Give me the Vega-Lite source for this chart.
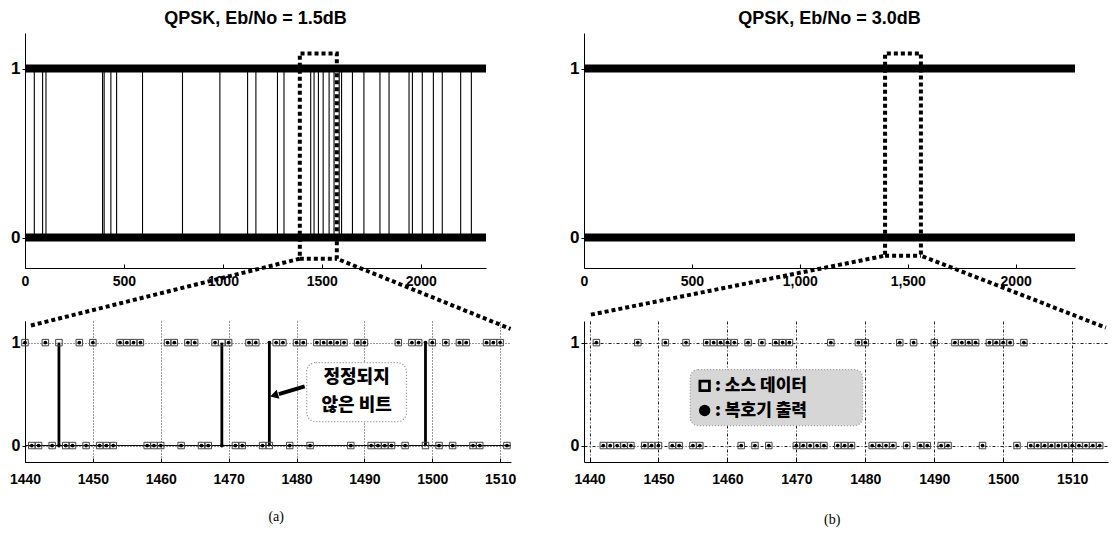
{
"$schema": "https://vega.github.io/schema/vega-lite/v6.json",
"padding": {"left": 9, "top": 10, "right": 0, "bottom": 0},
"spacing": 50,
"config": {
  "view": {"stroke": null},
  "font": "Liberation Sans",
  "axis": {"labelFlush": false, "labelOverlap": false, "domainColor": "black", "tickColor": "black", "labelColor": "black", "domainWidth": 1}
},
"datasets": {
  "band": [{"x": 0, "x2": 2330, "y": 0}, {"x": 0, "x2": 2330, "y": 1}],
  "bandB": [{"x": 0, "x2": 2275, "y": 0}, {"x": 0, "x2": 2275, "y": 1}],
  "errTopA": [{"x":47},{"x":89},{"x":106},{"x":392},{"x":400},{"x":434},{"x":463},{"x":594},{"x":796},{"x":985},{"x":1125},{"x":1167},{"x":1276},{"x":1309},{"x":1444},{"x":1461},{"x":1483},{"x":1507},{"x":1537},{"x":1562},{"x":1588},{"x":1600},{"x":1655},{"x":1713},{"x":1794},{"x":1840},{"x":1941},{"x":1958},{"x":2008},{"x":2064},{"x":2109},{"x":2202},{"x":2256}],
  "zoomA": [
    {"seg":"a","k":0,"x":30,"y":-0.52},{"seg":"a","k":1,"x":1389,"y":-0.125},{"seg":"a","k":2,"x":1389,"y":1.089},{"seg":"a","k":3,"x":1576,"y":1.089},{"seg":"a","k":4,"x":1576,"y":-0.125},{"seg":"a","k":5,"x":2454,"y":-0.54},
    {"seg":"b","k":0,"x":1389,"y":-0.125},{"seg":"b","k":1,"x":1576,"y":-0.125}],
  "zoomB": [
    {"seg":"a","k":0,"x":32,"y":-0.456},{"seg":"a","k":1,"x":1395,"y":-0.107},{"seg":"a","k":2,"x":1395,"y":1.089},{"seg":"a","k":3,"x":1561,"y":1.089},{"seg":"a","k":4,"x":1561,"y":-0.107},{"seg":"a","k":5,"x":2418,"y":-0.533},
    {"seg":"b","k":0,"x":1395,"y":-0.107},{"seg":"b","k":1,"x":1561,"y":-0.107}],
  "bitsA": [
    {"i":1440,"s":1,"d":1},{"i":1441,"s":0,"d":0},{"i":1442,"s":0,"d":0},{"i":1443,"s":1,"d":1},{"i":1444,"s":0,"d":0},{"i":1445,"s":1,"d":0},{"i":1446,"s":0,"d":0},{"i":1447,"s":0,"d":0},{"i":1448,"s":1,"d":1},{"i":1449,"s":0,"d":0},
    {"i":1450,"s":1,"d":1},{"i":1451,"s":0,"d":0},{"i":1452,"s":0,"d":0},{"i":1453,"s":0,"d":0},{"i":1454,"s":1,"d":1},{"i":1455,"s":1,"d":1},{"i":1456,"s":1,"d":1},{"i":1457,"s":1,"d":1},{"i":1458,"s":0,"d":0},{"i":1459,"s":0,"d":0},
    {"i":1460,"s":0,"d":0},{"i":1461,"s":1,"d":1},{"i":1462,"s":1,"d":1},{"i":1463,"s":0,"d":0},{"i":1464,"s":1,"d":1},{"i":1465,"s":1,"d":1},{"i":1466,"s":0,"d":0},{"i":1467,"s":0,"d":0},{"i":1468,"s":1,"d":1},{"i":1469,"s":1,"d":0},
    {"i":1470,"s":1,"d":1},{"i":1471,"s":0,"d":0},{"i":1472,"s":0,"d":0},{"i":1473,"s":1,"d":1},{"i":1474,"s":1,"d":1},{"i":1475,"s":0,"d":0},{"i":1476,"s":0,"d":1},{"i":1477,"s":1,"d":1},{"i":1478,"s":1,"d":1},{"i":1479,"s":0,"d":0},
    {"i":1480,"s":1,"d":1},{"i":1481,"s":1,"d":1},{"i":1482,"s":0,"d":0},{"i":1483,"s":1,"d":1},{"i":1484,"s":1,"d":1},{"i":1485,"s":1,"d":1},{"i":1486,"s":1,"d":1},{"i":1487,"s":1,"d":1},{"i":1488,"s":0,"d":0},{"i":1489,"s":1,"d":1},
    {"i":1490,"s":1,"d":1},{"i":1491,"s":0,"d":0},{"i":1492,"s":0,"d":0},{"i":1493,"s":0,"d":0},{"i":1494,"s":0,"d":0},{"i":1495,"s":1,"d":1},{"i":1496,"s":0,"d":0},{"i":1497,"s":1,"d":1},{"i":1498,"s":1,"d":1},{"i":1499,"s":0,"d":1},
    {"i":1500,"s":1,"d":1},{"i":1501,"s":0,"d":0},{"i":1502,"s":1,"d":1},{"i":1503,"s":0,"d":0},{"i":1504,"s":1,"d":1},{"i":1505,"s":1,"d":1},{"i":1506,"s":0,"d":0},{"i":1507,"s":0,"d":0},{"i":1508,"s":1,"d":1},{"i":1509,"s":1,"d":1},
    {"i":1510,"s":1,"d":1},{"i":1511,"s":0,"d":0}],
  "bitsB": [
    {"i":1441,"s":1,"d":1},{"i":1442,"s":0,"d":0},{"i":1443,"s":0,"d":0},{"i":1444,"s":0,"d":0},{"i":1445,"s":0,"d":0},{"i":1446,"s":0,"d":0},{"i":1447,"s":1,"d":1},{"i":1448,"s":0,"d":0},{"i":1449,"s":0,"d":0},
    {"i":1450,"s":0,"d":0},{"i":1451,"s":1,"d":1},{"i":1452,"s":0,"d":0},{"i":1453,"s":0,"d":0},{"i":1454,"s":1,"d":1},{"i":1455,"s":0,"d":0},{"i":1456,"s":0,"d":0},{"i":1457,"s":1,"d":1},{"i":1458,"s":1,"d":1},{"i":1459,"s":1,"d":1},
    {"i":1460,"s":1,"d":1},{"i":1461,"s":1,"d":1},{"i":1462,"s":0,"d":0},{"i":1463,"s":1,"d":1},{"i":1464,"s":0,"d":0},{"i":1465,"s":1,"d":1},{"i":1466,"s":0,"d":0},{"i":1467,"s":1,"d":1},{"i":1468,"s":1,"d":1},{"i":1469,"s":1,"d":1},
    {"i":1470,"s":0,"d":0},{"i":1471,"s":0,"d":0},{"i":1472,"s":0,"d":0},{"i":1473,"s":0,"d":0},{"i":1474,"s":0,"d":0},{"i":1475,"s":1,"d":1},{"i":1476,"s":0,"d":0},{"i":1477,"s":0,"d":0},{"i":1478,"s":0,"d":0},{"i":1479,"s":1,"d":1},
    {"i":1480,"s":1,"d":1},{"i":1481,"s":0,"d":0},{"i":1482,"s":0,"d":0},{"i":1483,"s":0,"d":0},{"i":1484,"s":0,"d":0},{"i":1485,"s":1,"d":1},{"i":1486,"s":0,"d":0},{"i":1487,"s":1,"d":1},{"i":1488,"s":0,"d":0},{"i":1489,"s":0,"d":0},
    {"i":1490,"s":1,"d":1},{"i":1491,"s":0,"d":0},{"i":1492,"s":0,"d":0},{"i":1493,"s":1,"d":1},{"i":1494,"s":1,"d":1},{"i":1495,"s":1,"d":1},{"i":1496,"s":1,"d":1},{"i":1497,"s":0,"d":0},{"i":1498,"s":1,"d":1},{"i":1499,"s":1,"d":1},
    {"i":1500,"s":1,"d":1},{"i":1501,"s":1,"d":1},{"i":1502,"s":0,"d":0},{"i":1503,"s":1,"d":1},{"i":1504,"s":0,"d":0},{"i":1505,"s":0,"d":0},{"i":1506,"s":0,"d":0},{"i":1507,"s":0,"d":0},{"i":1508,"s":0,"d":0},{"i":1509,"s":0,"d":0},
    {"i":1510,"s":0,"d":0},{"i":1511,"s":0,"d":0},{"i":1512,"s":0,"d":0},{"i":1513,"s":0,"d":0},{"i":1514,"s":0,"d":0}],
  "baseA": [{"x":1440,"x2":1511.6,"y":0}],
  "noteBoxA": [{"x":1481.5,"x2":1496.2,"y":0.233,"y2":0.806}],
  "noteTextA": [{"x":1488.85,"y":0.66,"t":"정정되지"},{"x":1488.85,"y":0.38,"t":"않은 비트"}],
  "arrowA": [{"k":0,"x":1481.2,"y":0.575},{"k":1,"x":1477.4,"y":0.5}],
  "arrowHeadA": [{"x":1476.7,"y":0.487}],
  "capA": [{"x":1477,"y":-0.69,"t":"(a)"}],
  "legBoxB": [{"x":1454.6,"x2":1479.6,"y":0.194,"y2":0.738}],
  "legSq": [{"x":1456.7,"y":0.58}],
  "legDot": [{"x":1456.7,"y":0.34}],
  "legText": [{"x":1458.2,"y":0.58,"t":":  소스 데이터"},{"x":1458.2,"y":0.34,"t":":  복호기 출력"}],
  "capB": [{"x":1475.2,"y":-0.72,"t":"(b)"}]
},
"hconcat": [
  {"vconcat": [
    {"width": 461, "height": 235,
     "title": {"text": "QPSK, Eb/No = 1.5dB", "fontSize": 18, "fontWeight": "bold", "font": "Liberation Sans", "offset": 5, "color": "black"},
     "layer": [
      {"data": {"name": "band"}, "mark": {"type": "rule", "color": "black", "strokeWidth": 8},
       "encoding": {
        "x": {"field": "x", "type": "quantitative", "title": null, "scale": {"domain": [0, 2330], "nice": false, "zero": false},
              "axis": {"values": [0, 500, 1000, 1500, 2000], "format": "d", "grid": false, "tickSize": -4, "labelPadding": 10, "labelFont": "Liberation Sans", "labelFontWeight": "bold", "labelFontSize": 14}},
        "x2": {"field": "x2"},
        "y": {"field": "y", "type": "quantitative", "title": null, "scale": {"domain": [-0.18, 1.21], "nice": false, "zero": false},
              "axis": {"values": [0, 1], "format": "d", "grid": false, "tickSize": 3, "labelPadding": 2, "labelFontWeight": "bold", "labelFontSize": 17}}}},
      {"data": {"name": "errTopA"}, "mark": {"type": "rule", "color": "black", "strokeWidth": 1.1},
       "encoding": {
        "x": {"field": "x", "type": "quantitative", "title": null, "scale": {"domain": [0, 2330], "nice": false, "zero": false}},
        "y": {"datum": 0, "type": "quantitative", "scale": {"domain": [-0.18, 1.21], "nice": false, "zero": false}},
        "y2": {"datum": 1}}},
      {"data": {"name": "zoomA"}, "mark": {"type": "line", "color": "black", "strokeWidth": 4, "strokeDash": [4, 3]},
       "encoding": {
        "x": {"field": "x", "type": "quantitative", "title": null, "scale": {"domain": [0, 2330], "nice": false, "zero": false}},
        "y": {"field": "y", "type": "quantitative", "title": null, "scale": {"domain": [-0.18, 1.21], "nice": false, "zero": false}},
        "detail": {"field": "seg"}, "order": {"field": "k"}}}
     ]},
    {"width": 486, "height": 141,
     "layer": [
      {"data": {"name": "baseA"}, "mark": {"type": "rule", "color": "black", "strokeWidth": 1},
       "encoding": {
        "x": {"field": "x", "type": "quantitative", "title": null, "scale": {"domain": [1440, 1511.6], "nice": false, "zero": false},
              "axis": {"values": [1440, 1450, 1460, 1470, 1480, 1490, 1500, 1510], "format": "d", "grid": true, "gridDash": [1, 2], "gridColor": "#333", "tickSize": -4, "labelPadding": 14, "labelFont": "Liberation Sans", "labelFontWeight": "bold", "labelFontSize": 14}},
        "x2": {"field": "x2"},
        "y": {"field": "y", "type": "quantitative", "title": null, "scale": {"domain": [-0.16, 1.21], "nice": false, "zero": false},
              "axis": {"values": [0, 1], "format": "d", "grid": true, "gridDash": [1, 2], "gridColor": "#333", "tickSize": 3, "labelPadding": 2, "labelFontWeight": "bold", "labelFontSize": 16}}}},
      {"data": {"name": "bitsA"}, "transform": [{"filter": "datum.s != datum.d"}], "mark": {"type": "rule", "color": "black", "strokeWidth": 2.8},
       "encoding": {
        "x": {"field": "i", "type": "quantitative", "title": null, "scale": {"domain": [1440, 1511.6], "nice": false, "zero": false}},
        "y": {"datum": 0, "type": "quantitative", "scale": {"domain": [-0.16, 1.21], "nice": false, "zero": false}},
        "y2": {"datum": 1}}},
      {"data": {"name": "bitsA"}, "mark": {"type": "point", "shape": "square", "size": 42, "filled": false, "stroke": "#444", "strokeWidth": 1, "opacity": 1},
       "encoding": {
        "x": {"field": "i", "type": "quantitative", "title": null, "scale": {"domain": [1440, 1511.6], "nice": false, "zero": false}},
        "y": {"field": "s", "type": "quantitative", "title": null, "scale": {"domain": [-0.16, 1.21], "nice": false, "zero": false}}}},
      {"data": {"name": "bitsA"}, "mark": {"type": "point", "shape": "circle", "size": 14, "filled": true, "color": "black", "opacity": 1},
       "encoding": {
        "x": {"field": "i", "type": "quantitative", "title": null, "scale": {"domain": [1440, 1511.6], "nice": false, "zero": false}},
        "y": {"field": "d", "type": "quantitative", "title": null, "scale": {"domain": [-0.16, 1.21], "nice": false, "zero": false}}}},
      {"data": {"name": "noteBoxA"}, "mark": {"type": "rect", "fill": "white", "stroke": "#888", "strokeDash": [1, 2], "strokeWidth": 1.2, "cornerRadius": 9},
       "encoding": {
        "x": {"field": "x", "type": "quantitative", "title": null, "scale": {"domain": [1440, 1511.6], "nice": false, "zero": false}},
        "x2": {"field": "x2"},
        "y": {"field": "y", "type": "quantitative", "title": null, "scale": {"domain": [-0.16, 1.21], "nice": false, "zero": false}},
        "y2": {"field": "y2"}}},
      {"data": {"name": "noteTextA"}, "mark": {"type": "text", "font": "Noto Sans CJK KR", "fontWeight": 900, "fontSize": 18, "color": "black", "align": "center", "baseline": "middle"},
       "encoding": {
        "x": {"field": "x", "type": "quantitative", "title": null, "scale": {"domain": [1440, 1511.6], "nice": false, "zero": false}},
        "y": {"field": "y", "type": "quantitative", "title": null, "scale": {"domain": [-0.16, 1.21], "nice": false, "zero": false}},
        "text": {"field": "t"}}},
      {"data": {"name": "arrowA"}, "mark": {"type": "line", "color": "black", "strokeWidth": 4},
       "encoding": {
        "x": {"field": "x", "type": "quantitative", "title": null, "scale": {"domain": [1440, 1511.6], "nice": false, "zero": false}},
        "y": {"field": "y", "type": "quantitative", "title": null, "scale": {"domain": [-0.16, 1.21], "nice": false, "zero": false}},
        "order": {"field": "k"}}},
      {"data": {"name": "arrowHeadA"}, "mark": {"type": "point", "shape": "triangle-left", "size": 90, "filled": true, "color": "black", "opacity": 1, "angle": -17},
       "encoding": {
        "x": {"field": "x", "type": "quantitative", "title": null, "scale": {"domain": [1440, 1511.6], "nice": false, "zero": false}},
        "y": {"field": "y", "type": "quantitative", "title": null, "scale": {"domain": [-0.16, 1.21], "nice": false, "zero": false}}}},
      {"data": {"name": "capA"}, "mark": {"type": "text", "font": "Liberation Serif", "fontSize": 14, "color": "black", "align": "center", "baseline": "middle"},
       "encoding": {
        "x": {"field": "x", "type": "quantitative", "title": null, "scale": {"domain": [1440, 1511.6], "nice": false, "zero": false}},
        "y": {"field": "y", "type": "quantitative", "title": null, "scale": {"domain": [-0.16, 1.21], "nice": false, "zero": false}},
        "text": {"field": "t"}}}
     ]}
  ], "spacing": 53, "bounds": "flush"},
  {"vconcat": [
    {"width": 491, "height": 235,
     "title": {"text": "QPSK, Eb/No = 3.0dB", "fontSize": 18, "fontWeight": "bold", "font": "Liberation Sans", "offset": 5, "color": "black"},
     "layer": [
      {"data": {"name": "bandB"}, "mark": {"type": "rule", "color": "black", "strokeWidth": 8},
       "encoding": {
        "x": {"field": "x", "type": "quantitative", "title": null, "scale": {"domain": [0, 2275], "nice": false, "zero": false},
              "axis": {"values": [0, 500, 1000, 1500, 2000], "labelExpr": "datum.value == 1000 ? '1,000' : datum.value == 1500 ? '1,500' : format(datum.value, 'd')", "grid": false, "tickSize": -4, "labelPadding": 10, "labelFont": "Liberation Sans", "labelFontWeight": "bold", "labelFontSize": 14}},
        "x2": {"field": "x2"},
        "y": {"field": "y", "type": "quantitative", "title": null, "scale": {"domain": [-0.18, 1.21], "nice": false, "zero": false},
              "axis": {"values": [0, 1], "format": "d", "grid": false, "tickSize": 3, "labelPadding": 2, "labelFontWeight": "bold", "labelFontSize": 17}}}},
      {"data": {"name": "zoomB"}, "mark": {"type": "line", "color": "black", "strokeWidth": 4, "strokeDash": [4, 3]},
       "encoding": {
        "x": {"field": "x", "type": "quantitative", "title": null, "scale": {"domain": [0, 2275], "nice": false, "zero": false}},
        "y": {"field": "y", "type": "quantitative", "title": null, "scale": {"domain": [-0.18, 1.21], "nice": false, "zero": false}},
        "detail": {"field": "seg"}, "order": {"field": "k"}}}
     ]},
    {"width": 524, "height": 141,
     "layer": [
      {"data": {"name": "bitsB"}, "mark": {"type": "point", "shape": "square", "size": 42, "filled": false, "stroke": "#444", "strokeWidth": 1, "opacity": 1},
       "encoding": {
        "x": {"field": "i", "type": "quantitative", "title": null, "scale": {"domain": [1439.2, 1515.2], "nice": false, "zero": false},
              "axis": {"values": [1440, 1450, 1460, 1470, 1480, 1490, 1500, 1510], "format": "d", "grid": true, "gridDash": [3, 2, 1, 2], "gridColor": "#222", "tickSize": -4, "labelPadding": 14, "labelFont": "Liberation Sans", "labelFontWeight": "bold", "labelFontSize": 14}},
        "y": {"field": "s", "type": "quantitative", "title": null, "scale": {"domain": [-0.16, 1.21], "nice": false, "zero": false},
              "axis": {"values": [0, 1], "format": "d", "grid": true, "gridDash": [3, 2, 1, 2], "gridColor": "#222", "tickSize": 3, "labelPadding": 2, "labelFontWeight": "bold", "labelFontSize": 16}}}},
      {"data": {"name": "bitsB"}, "mark": {"type": "point", "shape": "circle", "size": 14, "filled": true, "color": "black", "opacity": 1},
       "encoding": {
        "x": {"field": "i", "type": "quantitative", "title": null, "scale": {"domain": [1439.2, 1515.2], "nice": false, "zero": false}},
        "y": {"field": "d", "type": "quantitative", "title": null, "scale": {"domain": [-0.16, 1.21], "nice": false, "zero": false}}}},
      {"data": {"name": "legBoxB"}, "mark": {"type": "rect", "fill": "#d6d6d6", "stroke": "#999", "strokeDash": [1, 2], "strokeWidth": 1.2, "cornerRadius": 8},
       "encoding": {
        "x": {"field": "x", "type": "quantitative", "title": null, "scale": {"domain": [1439.2, 1515.2], "nice": false, "zero": false}},
        "x2": {"field": "x2"},
        "y": {"field": "y", "type": "quantitative", "title": null, "scale": {"domain": [-0.16, 1.21], "nice": false, "zero": false}},
        "y2": {"field": "y2"}}},
      {"data": {"name": "legSq"}, "mark": {"type": "point", "shape": "square", "size": 90, "filled": false, "stroke": "black", "strokeWidth": 2.8, "opacity": 1},
       "encoding": {
        "x": {"field": "x", "type": "quantitative", "title": null, "scale": {"domain": [1439.2, 1515.2], "nice": false, "zero": false}},
        "y": {"field": "y", "type": "quantitative", "title": null, "scale": {"domain": [-0.16, 1.21], "nice": false, "zero": false}}}},
      {"data": {"name": "legDot"}, "mark": {"type": "point", "shape": "circle", "size": 130, "filled": true, "color": "black", "opacity": 1},
       "encoding": {
        "x": {"field": "x", "type": "quantitative", "title": null, "scale": {"domain": [1439.2, 1515.2], "nice": false, "zero": false}},
        "y": {"field": "y", "type": "quantitative", "title": null, "scale": {"domain": [-0.16, 1.21], "nice": false, "zero": false}}}},
      {"data": {"name": "legText"}, "mark": {"type": "text", "font": "Noto Sans CJK KR", "fontWeight": 900, "fontSize": 17, "color": "black", "align": "left", "baseline": "middle"},
       "encoding": {
        "x": {"field": "x", "type": "quantitative", "title": null, "scale": {"domain": [1439.2, 1515.2], "nice": false, "zero": false}},
        "y": {"field": "y", "type": "quantitative", "title": null, "scale": {"domain": [-0.16, 1.21], "nice": false, "zero": false}},
        "text": {"field": "t"}}},
      {"data": {"name": "capB"}, "mark": {"type": "text", "font": "Liberation Serif", "fontSize": 14, "color": "black", "align": "center", "baseline": "middle"},
       "encoding": {
        "x": {"field": "x", "type": "quantitative", "title": null, "scale": {"domain": [1439.2, 1515.2], "nice": false, "zero": false}},
        "y": {"field": "y", "type": "quantitative", "title": null, "scale": {"domain": [-0.16, 1.21], "nice": false, "zero": false}},
        "text": {"field": "t"}}}
     ]}
  ], "spacing": 53, "bounds": "flush"}
]
}
